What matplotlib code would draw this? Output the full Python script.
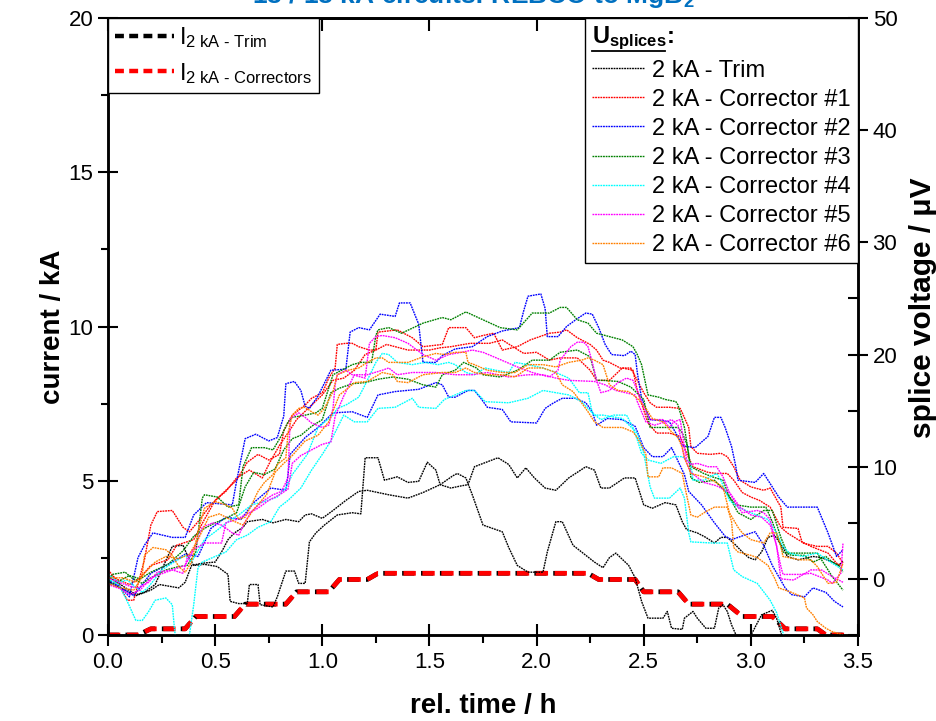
import numpy as np
import matplotlib.pyplot as plt
from matplotlib.lines import Line2D

plt.rcParams['font.family'] = ['Liberation Sans', 'DejaVu Sans']
plt.rcParams['mathtext.fontset'] = 'custom'
plt.rcParams['mathtext.rm'] = 'Liberation Sans'
plt.rcParams['mathtext.it'] = 'Liberation Sans:italic'
plt.rcParams['mathtext.bf'] = 'Liberation Sans:bold'

# currents (kA) vs rel. time (h)
cur_t = [0, 0.14, 0.20, 0.36, 0.41, 0.59, 0.64, 0.83, 0.88, 1.03, 1.08, 1.21, 1.26,
         2.24, 2.29, 2.46, 2.50, 2.66, 2.71, 2.89, 2.96, 3.10, 3.16, 3.31, 3.35, 3.44]
i_trim = [0, 0, 0.2, 0.2, 0.6, 0.6, 1.0, 1.0, 1.4, 1.4, 1.8, 1.8, 2.0,
          2.0, 1.8, 1.8, 1.4, 1.4, 1.0, 1.0, 0.6, 0.6, 0.2, 0.2, 0, 0]
i_corr = [0, 0, 0.2, 0.2, 0.6, 0.6, 1.0, 1.0, 1.4, 1.4, 1.8, 1.8, 2.0,
          2.0, 1.8, 1.8, 1.4, 1.4, 1.0, 1.0, 0.6, 0.6, 0.2, 0.2, 0, 0]

# splice voltages (h, uV)
u_trim_a = [(0.01, 0.1), (0.13, -1.4), (0.17, -1.2), (0.22, -0.5), (0.26, 1.2), (0.30, 2.9), (0.35, 3.0),
            (0.37, 2.1), (0.40, 1.2), (0.45, 1.3), (0.51, 1.1), (0.56, 0.4), (0.57, -2.0), (0.61, -2.2),
            (0.65, -2.2), (0.66, -0.5), (0.70, -0.5), (0.71, -2.3), (0.77, -2.5), (0.79, -1.6), (0.83, 0.7),
            (0.87, 0.7), (0.89, -0.4), (0.92, -0.4), (0.94, 3.3), (0.97, 4.1), (1.01, 4.8), (1.07, 5.7),
            (1.14, 5.9), (1.18, 5.8), (1.20, 10.8), (1.26, 10.8), (1.29, 8.8), (1.35, 9.1), (1.40, 8.6),
            (1.45, 8.7), (1.49, 10.4), (1.53, 9.7), (1.55, 8.4), (1.60, 8.1), (1.65, 8.3), (1.68, 8.4),
            (1.71, 10.0), (1.82, 10.8), (1.87, 10.2), (1.91, 9.0), (1.95, 9.9), (1.99, 9.0), (2.04, 8.1),
            (2.09, 7.9), (2.15, 9.0), (2.23, 10.0), (2.27, 9.7), (2.30, 8.1), (2.34, 8.1), (2.41, 9.0),
            (2.46, 9.0), (2.47, 8.4), (2.50, 6.6), (2.54, 6.3), (2.60, 6.8), (2.65, 6.6), (2.68, 5.1),
            (2.70, 4.4), (2.75, 4.1), (2.79, 3.7), (2.83, 3.2), (2.86, 3.7), (2.89, 3.7), (2.93, 3.0),
            (2.96, 2.4), (2.99, 1.9), (3.02, 1.7), (3.05, 2.4), (3.08, 3.7), (3.11, 3.9), (3.15, 2.8),
            (3.17, 2.0), (3.22, 1.7), (3.29, 2.0), (3.33, 1.9), (3.38, 1.5), (3.41, 1.2), (3.43, 1.6)]
u_trim_b = [(0.01, -0.3), (0.08, -1.0), (0.13, -1.5), (0.20, -1.0), (0.24, -0.5), (0.30, -0.7), (0.33, -0.8),
            (0.36, -0.3), (0.39, 1.2), (0.44, 1.4), (0.50, 1.5), (0.53, 2.4), (0.56, 3.5), (0.59, 4.1),
            (0.63, 4.6), (0.65, 5.1), (0.72, 5.3), (0.77, 5.0), (0.83, 5.3), (0.89, 5.1), (0.92, 5.7),
            (0.95, 5.8), (1.00, 5.4), (1.05, 6.1), (1.11, 7.0), (1.17, 7.8), (1.21, 7.9), (1.31, 7.5),
            (1.40, 7.2), (1.47, 7.7), (1.55, 8.4), (1.61, 9.2), (1.63, 9.4), (1.67, 9.0), (1.70, 7.5),
            (1.75, 4.8), (1.84, 4.2), (1.87, 2.8), (1.91, 1.2), (1.96, 0.6), (2.03, 0.6), (2.05, 2.4),
            (2.09, 5.1), (2.12, 5.1), (2.17, 3.0), (2.23, 2.1), (2.27, 1.5), (2.31, 1.0), (2.34, 1.9),
            (2.37, 2.3), (2.43, 1.2), (2.46, 0.1), (2.49, -2.0), (2.52, -3.5), (2.59, -3.5), (2.61, -2.9),
            (2.63, -4.4), (2.68, -4.5), (2.69, -3.5), (2.73, -2.9), (2.75, -3.5), (2.79, -4.4), (2.83, -4.4),
            (2.85, -2.6), (2.87, -2.3), (2.89, -2.9), (2.91, -4.1), (2.94, -5.4), (2.96, -6.3), (2.99, -5.4),
            (3.05, -3.2), (3.10, -2.8), (3.12, -3.5), (3.15, -5.4), (3.17, -6.3)]
u_corr1_a = [(0.00, 0.8), (0.04, -0.1), (0.09, -1.9), (0.12, -1.9), (0.17, 1.7), (0.20, 4.8), (0.23, 6.0),
             (0.30, 6.1), (0.35, 4.6), (0.38, 4.2), (0.42, 5.1), (0.48, 6.6), (0.55, 7.9), (0.60, 8.8),
             (0.65, 10.4), (0.70, 11.1), (0.75, 10.6), (0.80, 11.1), (0.82, 13.2), (0.86, 14.6), (0.92, 15.5),
             (0.95, 16.1), (1.00, 16.6), (1.01, 17.0), (1.03, 17.9), (1.06, 18.8), (1.07, 20.9), (1.11, 21.0),
             (1.14, 21.0), (1.17, 20.7), (1.22, 20.4), (1.25, 20.4), (1.26, 22.0), (1.35, 22.2), (1.42, 21.5),
             (1.47, 20.7), (1.56, 20.9), (1.59, 22.4), (1.67, 22.4), (1.71, 21.5), (1.75, 21.7), (1.80, 21.9),
             (1.84, 20.4), (1.91, 20.7), (1.97, 21.3), (2.06, 21.9), (2.11, 22.0), (2.14, 22.2), (2.19, 21.5),
             (2.25, 20.9), (2.28, 20.4), (2.31, 19.5), (2.34, 19.3), (2.39, 18.8), (2.44, 18.8), (2.47, 17.7),
             (2.50, 16.6), (2.53, 15.7), (2.56, 15.3), (2.62, 15.3), (2.67, 15.2), (2.68, 14.8), (2.71, 13.5),
             (2.72, 11.8), (2.75, 11.2), (2.81, 11.1), (2.86, 11.2), (2.89, 10.9), (2.92, 10.0), (2.95, 8.8),
             (3.00, 8.2), (3.06, 7.9), (3.09, 8.1), (3.14, 6.4), (3.15, 4.6), (3.22, 4.5), (3.24, 3.2),
             (3.31, 2.9), (3.36, 2.9), (3.40, 2.3), (3.43, 1.4)]
u_corr1_b = [(0.00, 0.4), (0.05, -0.1), (0.10, -0.5), (0.15, 0.1), (0.20, 1.2), (0.28, 1.7), (0.32, 3.0),
             (0.40, 3.5), (0.45, 5.3), (0.50, 7.0), (0.55, 7.8), (0.60, 9.0), (0.66, 9.7), (0.72, 9.0),
             (0.75, 10.2), (0.80, 11.9), (0.85, 13.3), (0.88, 14.2), (0.95, 15.5), (1.00, 16.4), (1.05, 17.7),
             (1.10, 17.9), (1.15, 18.6), (1.20, 20.0), (1.25, 20.4), (1.30, 20.9), (1.40, 20.4), (1.50, 20.4),
             (1.55, 20.6), (1.60, 20.7), (1.69, 21.0), (1.78, 21.0), (1.84, 21.3), (1.94, 20.1), (2.00, 20.2),
             (2.06, 19.5), (2.11, 19.7), (2.19, 19.7), (2.25, 18.6), (2.28, 17.7), (2.34, 17.7), (2.40, 18.8),
             (2.45, 18.6), (2.47, 16.8), (2.52, 13.9), (2.56, 13.0), (2.62, 13.0), (2.67, 12.7), (2.70, 11.2),
             (2.73, 10.0), (2.80, 9.5), (2.84, 9.4), (2.89, 9.4), (2.92, 8.8), (2.96, 7.7), (3.00, 7.3),
             (3.04, 7.0), (3.09, 6.4), (3.14, 4.6), (3.17, 4.1), (3.22, 3.5), (3.28, 2.9), (3.32, 2.6),
             (3.36, 2.3), (3.40, 1.4), (3.43, 1.1)]
u_corr2_a = [(0.00, -0.1), (0.05, -0.6), (0.10, -1.6), (0.14, 1.9), (0.17, 3.0), (0.21, 4.1), (0.30, 3.7),
             (0.36, 3.7), (0.40, 5.7), (0.46, 6.8), (0.58, 6.6), (0.60, 8.7), (0.64, 12.5), (0.69, 12.9),
             (0.75, 12.3), (0.79, 12.6), (0.82, 14.5), (0.83, 17.4), (0.87, 17.6), (0.90, 16.8), (0.92, 15.4),
             (0.94, 15.2), (0.98, 16.3), (1.04, 18.6), (1.11, 18.7), (1.13, 22.0), (1.17, 22.4), (1.22, 22.2),
             (1.27, 23.6), (1.34, 23.4), (1.36, 24.6), (1.41, 24.6), (1.45, 22.7), (1.47, 19.3), (1.53, 19.3),
             (1.56, 19.9), (1.62, 20.5), (1.70, 20.7), (1.77, 21.6), (1.84, 22.1), (1.92, 22.4), (1.94, 23.9),
             (1.96, 25.2), (2.02, 25.4), (2.04, 24.1), (2.05, 21.6), (2.10, 21.6), (2.14, 22.5), (2.19, 23.2),
             (2.23, 23.7), (2.26, 23.6), (2.29, 22.4), (2.32, 20.9), (2.35, 20.0), (2.41, 19.9), (2.44, 20.3),
             (2.46, 20.0), (2.47, 18.4), (2.49, 16.1), (2.53, 14.2), (2.59, 14.1), (2.62, 14.0), (2.65, 13.0),
             (2.68, 11.9), (2.70, 11.8), (2.74, 11.7), (2.77, 12.2), (2.80, 12.7), (2.83, 14.4), (2.86, 14.4),
             (2.88, 13.5), (2.91, 11.8), (2.93, 10.0), (2.94, 8.8), (3.02, 8.6), (3.06, 9.4), (3.08, 8.8),
             (3.13, 7.3), (3.17, 6.4), (3.31, 6.4), (3.36, 4.1), (3.40, 2.0), (3.43, 2.6)]
u_corr2_b = [(0.00, -0.3), (0.08, -1.0), (0.12, -1.5), (0.20, 0.5), (0.30, 1.5), (0.36, 2.2), (0.42, 2.0),
             (0.48, 4.5), (0.55, 5.5), (0.62, 5.3), (0.68, 6.8), (0.76, 8.1), (0.83, 7.9), (0.84, 9.3),
             (0.85, 11.1), (0.92, 12.6), (0.98, 13.5), (1.05, 14.8), (1.14, 14.9), (1.21, 14.4), (1.26, 16.4),
             (1.34, 16.7), (1.45, 16.9), (1.53, 17.5), (1.56, 17.3), (1.59, 16.2), (1.62, 16.2), (1.68, 16.8),
             (1.71, 16.8), (1.74, 16.1), (1.77, 15.3), (1.84, 15.1), (1.88, 14.0), (2.00, 13.9), (2.04, 15.2),
             (2.08, 15.7), (2.12, 16.1), (2.18, 16.1), (2.23, 15.7), (2.26, 14.9), (2.28, 13.7), (2.33, 14.3),
             (2.40, 14.2), (2.46, 13.6), (2.50, 11.7), (2.54, 10.9), (2.59, 10.9), (2.63, 11.7), (2.66, 10.5),
             (2.69, 9.3), (2.71, 7.8), (2.77, 6.6), (2.83, 5.0), (2.88, 3.8), (2.91, 3.5), (2.97, 3.9),
             (3.02, 4.2), (3.06, 3.0), (3.10, 1.2), (3.16, -0.8), (3.19, -1.4), (3.25, -1.6), (3.29, -0.8),
             (3.35, -1.2), (3.39, -2.0), (3.43, -2.5)]
u_corr3_a = [(0.00, -0.7), (0.02, 0.4), (0.08, 0.6), (0.11, 0.1), (0.16, -0.4), (0.20, 0.1), (0.27, 0.8),
             (0.33, 1.1), (0.37, 1.2), (0.41, 2.4), (0.44, 7.2), (0.45, 7.5), (0.51, 7.3), (0.56, 6.4),
             (0.61, 6.6), (0.63, 10.0), (0.67, 11.7), (0.73, 11.7), (0.77, 11.5), (0.81, 12.8), (0.84, 14.0),
             (0.86, 14.4), (0.92, 14.6), (0.97, 14.8), (1.00, 15.2), (1.05, 18.2), (1.07, 18.4), (1.14, 19.1),
             (1.18, 19.3), (1.23, 19.3), (1.25, 21.7), (1.26, 22.2), (1.31, 22.4), (1.37, 21.9), (1.47, 22.8),
             (1.56, 23.3), (1.60, 23.1), (1.67, 23.8), (1.75, 23.1), (1.83, 22.4), (1.91, 22.2), (1.98, 23.7),
             (2.06, 23.7), (2.11, 24.2), (2.14, 24.2), (2.19, 23.1), (2.24, 22.8), (2.28, 21.9), (2.34, 21.6),
             (2.40, 21.3), (2.45, 20.7), (2.47, 20.0), (2.49, 19.1), (2.52, 16.4), (2.57, 16.2), (2.60, 16.0),
             (2.65, 15.8), (2.66, 15.5), (2.69, 13.5), (2.71, 11.1), (2.72, 9.0), (2.76, 8.6), (2.83, 8.8),
             (2.88, 7.8), (2.93, 6.6), (3.00, 6.4), (3.07, 6.4), (3.10, 5.1), (3.15, 2.4), (3.19, 2.1),
             (3.25, 2.1), (3.29, 1.5), (3.35, 2.0), (3.38, 1.5), (3.41, 1.2), (3.43, 0.6)]
u_corr3_b = [(0.00, -0.6), (0.05, -0.2), (0.10, 0.3), (0.15, 0.0), (0.20, 0.6), (0.28, 1.3), (0.35, 2.5),
             (0.40, 3.8), (0.45, 4.5), (0.50, 5.0), (0.55, 5.4), (0.60, 5.9), (0.64, 8.2), (0.68, 9.5),
             (0.73, 9.3), (0.78, 9.8), (0.82, 11.5), (0.86, 12.5), (0.90, 12.8), (0.95, 13.6), (1.00, 14.2),
             (1.04, 16.6), (1.08, 17.0), (1.14, 17.4), (1.20, 17.5), (1.26, 17.8), (1.33, 18.0), (1.40, 17.8),
             (1.47, 17.3), (1.53, 17.1), (1.56, 18.2), (1.62, 18.6), (1.66, 19.3), (1.72, 18.8), (1.75, 18.2),
             (1.83, 18.0), (1.91, 18.6), (1.98, 19.5), (2.06, 19.5), (2.11, 20.2), (2.19, 20.4), (2.25, 19.8),
             (2.28, 17.7), (2.31, 17.7), (2.38, 17.6), (2.44, 17.1), (2.50, 16.0), (2.53, 13.5), (2.59, 13.5),
             (2.66, 13.5), (2.68, 13.0), (2.70, 12.1), (2.72, 10.0), (2.78, 9.4), (2.82, 9.1), (2.87, 8.8),
             (2.90, 7.3), (2.94, 5.9), (3.00, 5.3), (3.06, 6.1), (3.10, 6.1), (3.14, 3.7), (3.17, 2.3),
             (3.23, 2.3), (3.31, 2.3), (3.38, 0.2), (3.43, -1.0)]
u_corr4_a = [(0.00, 0.4), (0.05, -0.3), (0.09, -0.1), (0.16, -1.2), (0.19, -0.7), (0.25, 0.8), (0.30, 1.4),
             (0.36, 2.1), (0.39, 1.5), (0.45, 3.5), (0.50, 4.2), (0.56, 5.1), (0.61, 5.7), (0.67, 6.6),
             (0.73, 6.9), (0.79, 7.3), (0.83, 8.1), (0.86, 9.3), (0.93, 11.1), (0.98, 13.5), (1.05, 14.6),
             (1.07, 15.2), (1.11, 15.5), (1.17, 16.2), (1.20, 17.3), (1.25, 19.3), (1.28, 20.1), (1.31, 20.0),
             (1.35, 19.3), (1.42, 19.1), (1.48, 19.3), (1.54, 19.1), (1.59, 19.3), (1.62, 19.1), (1.67, 18.4),
             (1.71, 18.2), (1.76, 18.8), (1.81, 18.6), (1.87, 18.4), (1.90, 19.3), (1.96, 19.1), (2.03, 18.8),
             (2.09, 18.4), (2.15, 17.9), (2.20, 16.6), (2.24, 16.6), (2.26, 14.8), (2.30, 14.2), (2.36, 14.6),
             (2.42, 14.6), (2.45, 13.5), (2.47, 12.4), (2.49, 11.2), (2.52, 10.6), (2.58, 10.3), (2.64, 10.9),
             (2.68, 10.9), (2.72, 10.3), (2.73, 8.8), (2.78, 8.8), (2.84, 9.4), (2.86, 8.8), (2.90, 7.0),
             (2.94, 6.4), (3.00, 5.9), (3.08, 5.3), (3.12, 4.1), (3.15, 2.9), (3.18, 2.3), (3.24, 2.0),
             (3.31, 2.3), (3.38, 1.4), (3.43, 0.8)]
u_corr4_b = [(0.00, 0.0), (0.05, -0.5), (0.09, -2.0), (0.13, -3.7), (0.16, -3.7), (0.19, -2.9), (0.22, -1.9),
             (0.27, -1.7), (0.30, -2.3), (0.31, -4.4), (0.32, -6.0), (0.37, -6.0), (0.38, -5.0), (0.40, -2.3),
             (0.42, 1.0), (0.44, 1.5), (0.50, 2.0), (0.55, 2.4), (0.60, 3.5), (0.65, 3.9), (0.70, 4.6),
             (0.76, 5.1), (0.80, 6.4), (0.84, 7.0), (0.90, 8.1), (0.95, 9.7), (1.00, 11.1), (1.04, 12.3),
             (1.10, 14.6), (1.15, 14.0), (1.21, 14.0), (1.26, 15.2), (1.34, 15.3), (1.42, 16.1), (1.45, 15.3),
             (1.53, 15.2), (1.57, 16.0), (1.67, 16.8), (1.71, 16.8), (1.76, 15.8), (1.87, 15.7), (1.96, 16.1),
             (2.03, 16.8), (2.09, 16.6), (2.15, 16.4), (2.21, 15.8), (2.27, 14.6), (2.31, 14.6), (2.40, 14.3),
             (2.47, 13.0), (2.50, 11.2), (2.53, 8.2), (2.55, 7.2), (2.62, 7.2), (2.67, 8.1), (2.69, 7.2),
             (2.71, 4.1), (2.72, 3.3), (2.82, 3.2), (2.89, 3.2), (2.92, 0.8), (2.96, 0.2), (3.03, -0.4),
             (3.09, -1.9), (3.12, -3.0), (3.15, -4.8), (3.17, -6.0)]
u_corr5_a = [(0.00, 0.1), (0.05, -0.3), (0.11, -0.7), (0.14, -0.8), (0.19, -0.3), (0.23, 0.6), (0.30, 0.8),
             (0.35, 0.5), (0.37, 1.9), (0.41, 3.0), (0.44, 4.6), (0.49, 5.0), (0.53, 4.8), (0.58, 4.1),
             (0.61, 3.9), (0.64, 5.1), (0.67, 6.0), (0.72, 6.9), (0.77, 7.5), (0.81, 7.8), (0.84, 9.0),
             (0.85, 14.3), (0.89, 14.8), (0.92, 14.4), (0.95, 13.9), (1.00, 13.5), (1.03, 13.7), (1.05, 15.2),
             (1.06, 17.3), (1.07, 18.2), (1.11, 18.6), (1.14, 18.2), (1.20, 17.9), (1.22, 21.0), (1.25, 21.6),
             (1.28, 21.7), (1.34, 21.5), (1.40, 21.0), (1.47, 20.0), (1.53, 19.5), (1.59, 20.0), (1.65, 20.2),
             (1.70, 20.4), (1.75, 20.2), (1.80, 19.8), (1.91, 18.9), (1.98, 18.4), (2.06, 18.0), (2.10, 18.6),
             (2.11, 19.5), (2.16, 20.7), (2.19, 21.1), (2.22, 21.1), (2.24, 20.7), (2.26, 19.3), (2.28, 17.7),
             (2.30, 16.6), (2.34, 16.8), (2.38, 17.5), (2.42, 17.9), (2.45, 17.7), (2.47, 16.8), (2.50, 15.3),
             (2.53, 14.2), (2.59, 14.2), (2.62, 13.5), (2.64, 14.0), (2.67, 14.2), (2.68, 13.0), (2.70, 10.6),
             (2.72, 10.2), (2.75, 10.3), (2.80, 10.0), (2.84, 10.0), (2.87, 9.1), (2.90, 7.7), (2.94, 6.4),
             (2.96, 5.9), (3.03, 6.1), (3.06, 5.9), (3.09, 5.3), (3.12, 2.9), (3.14, 1.1), (3.15, 0.4),
             (3.23, 0.4), (3.28, 0.5), (3.36, -0.1), (3.38, -0.4), (3.42, 0.5), (3.43, 3.2)]
u_corr5_b = [(0.00, -0.5), (0.06, -0.9), (0.10, -1.4), (0.15, -1.0), (0.20, 0.1), (0.30, 0.8), (0.36, 1.2),
             (0.40, 2.6), (0.45, 3.2), (0.53, 3.2), (0.55, 5.0), (0.60, 5.3), (0.65, 5.8), (0.70, 6.3),
             (0.75, 7.0), (0.80, 7.5), (0.84, 8.0), (0.86, 10.3), (0.90, 11.0), (0.95, 11.5), (1.00, 12.0),
             (1.04, 12.2), (1.06, 14.5), (1.10, 16.3), (1.15, 18.2), (1.21, 18.2), (1.28, 18.6), (1.31, 18.8),
             (1.35, 18.2), (1.42, 18.4), (1.53, 18.4), (1.62, 18.2), (1.70, 18.2), (1.77, 18.4), (1.87, 18.0),
             (1.96, 18.2), (2.03, 18.2), (2.09, 17.9), (2.15, 17.7), (2.27, 17.6), (2.32, 17.3), (2.37, 16.8),
             (2.46, 16.4), (2.47, 15.8), (2.49, 14.9), (2.51, 14.0), (2.55, 13.7), (2.60, 14.0), (2.63, 14.2),
             (2.66, 13.7), (2.67, 12.8), (2.68, 11.7), (2.69, 10.8), (2.72, 9.5), (2.78, 8.6), (2.84, 8.3),
             (2.90, 7.7), (2.95, 6.4), (3.00, 5.7), (3.05, 5.5), (3.09, 4.8), (3.12, 3.0), (3.14, 0.0),
             (3.20, -0.1), (3.28, 0.8), (3.33, 0.8), (3.38, 0.2), (3.43, -0.3)]
u_corr6_a = [(0.00, 0.1), (0.07, 0.1), (0.13, -0.3), (0.16, 0.4), (0.17, 2.1), (0.21, 2.8), (0.27, 2.6),
             (0.30, 2.1), (0.33, 1.1), (0.36, 0.6), (0.39, 1.5), (0.42, 4.2), (0.45, 6.3), (0.50, 6.9),
             (0.55, 6.6), (0.58, 6.3), (0.61, 5.3), (0.64, 5.5), (0.67, 6.6), (0.70, 7.8), (0.73, 8.6),
             (0.77, 9.3), (0.79, 10.2), (0.83, 10.8), (0.84, 13.0), (0.86, 14.6), (0.89, 15.2), (0.92, 15.3),
             (0.95, 14.9), (0.98, 14.6), (1.01, 15.2), (1.05, 16.7), (1.07, 18.2), (1.12, 18.6), (1.17, 18.8),
             (1.21, 19.3), (1.25, 19.7), (1.28, 19.7), (1.31, 19.3), (1.40, 19.3), (1.47, 19.8), (1.53, 20.1),
             (1.57, 20.0), (1.62, 20.2), (1.67, 20.2), (1.68, 19.3), (1.71, 19.1), (1.77, 18.6), (1.84, 18.4),
             (1.90, 18.4), (1.96, 19.1), (2.03, 19.1), (2.09, 18.9), (2.15, 19.3), (2.21, 19.5), (2.24, 19.7),
             (2.27, 19.5), (2.31, 19.1), (2.34, 17.3), (2.38, 16.8), (2.43, 16.7), (2.47, 16.1), (2.51, 15.2),
             (2.54, 14.3), (2.59, 14.0), (2.63, 13.1), (2.66, 12.6), (2.68, 11.7), (2.69, 10.8), (2.72, 9.4),
             (2.78, 9.1), (2.82, 8.8), (2.87, 8.2), (2.90, 5.9), (2.94, 4.6), (2.96, 4.1), (3.00, 3.5),
             (3.06, 3.2), (3.09, 4.1), (3.12, 4.1), (3.14, 2.9), (3.15, 2.0), (3.23, 1.7), (3.28, 1.7),
             (3.31, 1.1), (3.36, -0.4), (3.40, -0.3), (3.43, 1.4)]
u_corr6_b = [(0.00, -0.4), (0.06, -0.8), (0.12, -1.0), (0.17, 0.5), (0.22, 1.5), (0.27, 2.0), (0.33, 1.8),
             (0.38, 2.2), (0.42, 3.5), (0.47, 5.5), (0.52, 5.8), (0.58, 5.2), (0.63, 4.8), (0.68, 6.2),
             (0.74, 7.5), (0.78, 9.5), (0.82, 10.3), (0.86, 11.0), (0.92, 12.3), (0.98, 12.8), (1.03, 14.0),
             (1.08, 16.4), (1.12, 17.0), (1.15, 17.5), (1.21, 17.6), (1.28, 18.4), (1.33, 18.2), (1.35, 17.6),
             (1.40, 17.5), (1.47, 18.2), (1.56, 18.4), (1.62, 18.4), (1.67, 18.8), (1.71, 18.4), (1.77, 18.2),
             (1.84, 18.2), (1.90, 18.0), (1.96, 18.8), (2.03, 18.8), (2.09, 18.4), (2.12, 17.3), (2.17, 16.7),
             (2.21, 15.7), (2.24, 14.9), (2.27, 14.0), (2.31, 13.5), (2.40, 13.5), (2.45, 13.1), (2.47, 12.6),
             (2.49, 11.9), (2.51, 11.1), (2.52, 9.1), (2.57, 9.1), (2.59, 9.9), (2.63, 9.9), (2.68, 9.4),
             (2.69, 8.4), (2.71, 6.6), (2.72, 5.7), (2.75, 5.5), (2.79, 6.0), (2.83, 6.4), (2.89, 6.4),
             (2.91, 5.1), (2.92, 2.8), (2.94, 2.4), (3.00, 2.1), (3.03, 1.9), (3.08, 1.2), (3.11, 0.1),
             (3.13, -0.8), (3.19, -1.2), (3.25, -1.7), (3.26, -2.6), (3.29, -3.2), (3.31, -3.8), (3.35, -4.4),
             (3.38, -4.7), (3.43, -5.0)]

splice_labels = ['2 kA - Trim', '2 kA - Corrector #1', '2 kA - Corrector #2', '2 kA - Corrector #3',
                 '2 kA - Corrector #4', '2 kA - Corrector #5', '2 kA - Corrector #6']
splice_colors = ['black', '#FF0000', '#0000FF', '#008000', '#00FFFF', '#FF00FF', '#FF8000']
splice_series = [(u_trim_a, u_trim_b), (u_corr1_a, u_corr1_b), (u_corr2_a, u_corr2_b),
                 (u_corr3_a, u_corr3_b), (u_corr4_a, u_corr4_b), (u_corr5_a, u_corr5_b),
                 (u_corr6_a, u_corr6_b)]

dot = (0, (1.3, 0.6))
dash = (0, (2.6, 1.4))

fig = plt.figure(figsize=(9.37, 7.21), dpi=100)
ax = fig.add_axes([108 / 937, 1 - 635 / 721, 750 / 937, 617 / 721])
ax2 = ax.twinx()

# currents: trim current sits under the corrector current
ax.plot(cur_t, i_trim, color='black', lw=3.4, ls=(0.3, (2.6, 1.4)))
ax.plot(cur_t, i_corr, color='#FF0000', lw=3.4, ls=dash)

# splice voltages
for (a, b), c in zip(splice_series, splice_colors):
    for pts in (a, b):
        t, u = np.array(pts).T
        ax2.plot(t, u, color=c, lw=1.0, ls=dot)

ax.set_xlim(0, 3.5)
ax.set_ylim(0, 20)
ax2.set_ylim(-5, 50)

ax.set_xticks(np.arange(0, 3.51, 0.5))
ax.set_xticks(np.arange(0.25, 3.5, 0.5), minor=True)
ax.xaxis.set_major_formatter(plt.FormatStrFormatter('%.1f'))
ax.set_yticks([0, 5, 10, 15, 20])
ax.set_yticks([2.5, 7.5, 12.5, 17.5], minor=True)
ax2.set_yticks([0, 10, 20, 30, 40, 50])
ax2.set_yticks([-5, 5, 15, 25, 35, 45], minor=True)

ax.tick_params(axis='x', which='major', direction='inout', length=16, width=1.5, labelsize=16, pad=4)
ax.tick_params(axis='x', which='minor', direction='out', length=6, width=1.5)
ax.tick_params(axis='y', which='major', direction='inout', length=14, width=1.5, labelsize=16)
ax.tick_params(axis='y', which='minor', direction='out', length=5, width=1.5)
ax2.tick_params(axis='y', which='major', direction='inout', length=14, width=1.5, labelsize=16)
ax2.tick_params(axis='y', which='minor', direction='in', length=7, width=1.5)

top = ax.secondary_xaxis('top')
top.set_xticks(np.arange(0, 3.51, 0.5))
top.tick_params(direction='in', length=9, width=1.5, labelsize=0)
top.set_xticklabels([])

for a in (ax, ax2):
    for s in a.spines.values():
        s.set_linewidth(1.8)
top.spines['top'].set_linewidth(1.8)

ax.set_xlabel('rel. time / h', fontsize=20, fontweight='bold', labelpad=15)
ax.set_ylabel('current / kA', fontsize=20, fontweight='bold', labelpad=2)
ax2.set_ylabel('splice voltage / \u03bcV', fontsize=21.5, fontweight='bold', labelpad=8)
ax2.yaxis.label.set_y(0.53)

fig.text(0.505, 1 - 3 / 721, '13 / 18 kA circuits: REBCO to MgB$_\\mathbf{2}$', color='#0070C0',
         fontsize=19, fontweight='bold', ha='center', va='baseline')

# legends
h1 = [Line2D([], [], color='black', lw=3.2, ls=(0, (2.0, 1.2))),
      Line2D([], [], color='#FF0000', lw=3.2, ls=(0, (2.0, 1.2)))]
l1 = ['I$_{\\mathrm{2\\ kA\\ \u2010\\ Trim}}$', 'I$_{\\mathrm{2\\ kA\\ \u2010\\ Correctors}}$']
leg1 = ax2.legend(h1, l1, loc='upper left', bbox_to_anchor=(0, 1), borderaxespad=0, fontsize=17,
                  fancybox=False, edgecolor='black', framealpha=1, handlelength=2.5,
                  handletextpad=0.2, labelspacing=0.45, borderpad=0.3)
leg1.get_frame().set_linewidth(1.0)
ax2.add_artist(leg1)

h2 = [Line2D([], [], color=c, lw=1.0, ls=dot) for c in splice_colors]
leg2 = ax2.legend(h2, splice_labels, loc='upper right', bbox_to_anchor=(1, 1), borderaxespad=0,
                  fontsize=17, title=r'$\mathbf{U_{splices}}$:', alignment='left',
                  title_fontproperties={'weight': 'bold', 'size': 17},
                  fancybox=False, edgecolor='black', framealpha=1, handlelength=2.2,
                  handletextpad=0.35, labelspacing=0.3, borderpad=0.3)
leg2.get_frame().set_linewidth(1.0)

# underline the legend title
fig.canvas.draw()
bb = leg2.get_title().get_window_extent()
x0, x1 = bb.x0 / 937, (bb.x1 - 9) / 937
y0 = (bb.y0 + 1) / 721
fig.add_artist(Line2D([x0, x1], [y0, y0], color='black', lw=1.3, transform=fig.transFigure))

fig.savefig('out.png', dpi=100)
